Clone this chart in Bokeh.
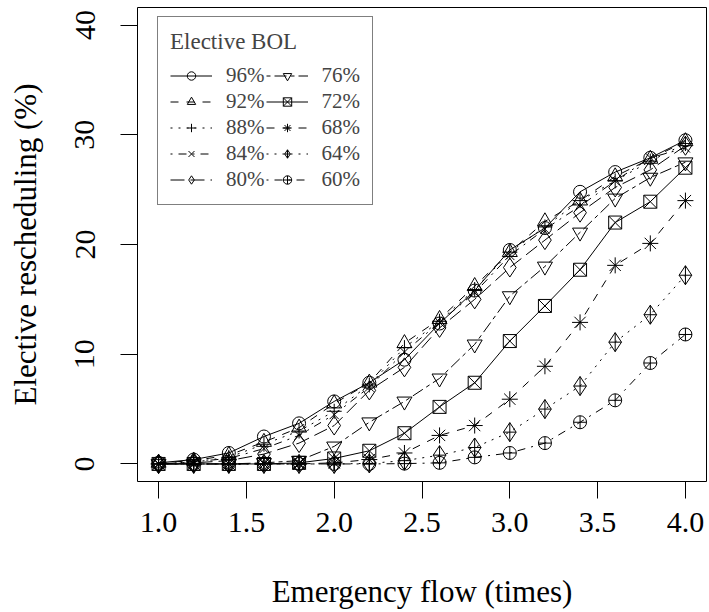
from bokeh.plotting import figure
from bokeh.models import Range1d, FixedTicker, Legend, LegendItem
from bokeh.embed import file_html
from bokeh.resources import INLINE

# ---- data ----
flow = [1.0, 1.2, 1.4, 1.6, 1.8, 2.0, 2.2, 2.4, 2.6, 2.8, 3.0, 3.2, 3.4, 3.6, 3.8, 4.0]

bol_labels = ["96%", "92%", "88%", "84%", "80%", "76%", "72%", "68%", "64%", "60%"]

bol96 = [0.1, 0.4, 1.0, 2.5, 3.7, 5.7, 7.4, 9.5, 12.8, 15.8, 19.5, 21.5, 24.8, 26.6, 27.9, 29.5]
bol92 = [0.1, 0.3, 0.8, 2.0, 3.3, 5.5, 7.4, 11.0, 13.2, 16.2, 19.3, 22.1, 24.0, 26.2, 27.8, 29.4]
bol88 = [0.0, 0.2, 0.6, 1.8, 3.0, 4.8, 7.2, 10.6, 13.0, 15.9, 19.3, 21.6, 24.0, 25.8, 27.6, 29.2]
bol84 = [0.0, 0.2, 0.5, 1.4, 2.6, 4.5, 7.0, 10.2, 12.9, 15.6, 19.0, 21.4, 23.5, 25.8, 27.9, 28.8]
bol80 = [0.0, 0.1, 0.3, 0.9, 1.9, 3.5, 6.7, 8.8, 12.4, 15.0, 17.9, 20.4, 22.9, 25.2, 26.8, 29.0]
bol76 = [0.0, 0.0, 0.0, 0.1, 0.3, 1.6, 3.8, 5.7, 7.8, 10.9, 15.3, 18.0, 21.1, 24.2, 26.1, 27.5]
bol72 = [0.0, 0.0, 0.0, 0.0, 0.1, 0.5, 1.2, 2.8, 5.2, 7.4, 11.2, 14.4, 17.7, 22.0, 23.9, 27.0]
bol68 = [0.0, 0.0, 0.0, 0.0, 0.0, 0.1, 0.4, 1.0, 2.6, 3.5, 5.9, 8.9, 12.9, 18.1, 20.1, 24.0]
bol64 = [0.0, 0.0, 0.0, 0.0, 0.0, 0.0, 0.05, 0.3, 0.8, 1.5, 2.9, 5.0, 7.1, 11.1, 13.6, 17.2]
bol60 = [0.0, 0.0, 0.0, 0.0, 0.0, 0.0, 0.0, 0.03, 0.1, 0.6, 1.0, 1.9, 3.8, 5.8, 9.2, 11.8]

series = [bol96, bol92, bol88, bol84, bol80, bol76, bol72, bol68, bol64, bol60]

x_ticks = [1.0, 1.5, 2.0, 2.5, 3.0, 3.5, 4.0]
y_ticks = [0, 10, 20, 30, 40]

# ---- styles (R lty 1..6 and pch 1..10) ----
dashes = ["solid", "8 8", "2 6", "2 6 8 6", "14 6", "4 4 12 4",
          "solid", "8 8", "2 6", "2 6 8 6"]
markers = ["circle", "triangle", "cross", "x", "diamond", "inverted_triangle",
           "square_x", "asterisk", "diamond_cross", "circle_cross"]
sizes = [13, 15, 15, 13, 19, 15, 13, 16, 19, 13]

FONT = "Liberation Serif, serif"

p = figure(frame_width=569, frame_height=474,
           min_border_left=137, min_border_right=1, min_border_top=7, min_border_bottom=128,
           x_range=Range1d(0.88, 4.12), y_range=Range1d(-1.6, 41.6),
           output_backend="svg", toolbar_location=None, tools="")

p.background_fill_color = "white"
p.border_fill_color = "white"
p.outline_line_color = "black"
p.outline_line_width = 1
p.grid.visible = False

items = []
for lab, ys, dash, mk, sz in zip(bol_labels, series, dashes, markers, sizes):
    ln = p.line(flow, ys, line_color="black", line_width=1, line_dash=dash)
    sc = p.scatter(flow, ys, marker=mk, size=sz,
                   line_color="black", line_width=1, fill_color=None)
    items.append(LegendItem(label=lab, renderers=[ln, sc]))

for ax in (p.xaxis[0], p.yaxis[0]):
    ax.axis_line_color = None
    ax.major_tick_line_color = "black"
    ax.major_tick_out = 17
    ax.major_tick_in = 0
    ax.minor_tick_line_color = None
    ax.major_label_text_font = FONT
    ax.major_label_text_font_size = "30px"
    ax.major_label_text_color = "black"
    ax.axis_label_text_font = FONT
    ax.axis_label_text_font_size = "31px"
    ax.axis_label_text_font_style = "normal"
    ax.axis_label_text_color = "black"

p.xaxis.ticker = FixedTicker(ticks=x_ticks)
p.yaxis.ticker = FixedTicker(ticks=y_ticks)
p.xaxis.major_label_overrides = {1.0: "1.0", 1.5: "1.5", 2.0: "2.0", 2.5: "2.5",
                                 3.0: "3.0", 3.5: "3.5", 4.0: "4.0"}
p.xaxis.axis_label = "Emergency flow (times)"
p.yaxis.axis_label = "Elective rescheduling (%)"
p.yaxis.major_label_orientation = "vertical"
p.xaxis.major_label_standoff = 14
p.yaxis.major_label_standoff = 26
p.xaxis.axis_label_standoff = 39
p.yaxis.axis_label_standoff = 30

legend = Legend(items=items, ncols=2, location=(20, 276),
                title="Elective BOL",
                title_text_font=FONT, title_text_font_size="23px", title_text_font_style="normal",
                title_standoff=8,
                label_text_font=FONT, label_text_font_size="21px",
                label_height=21, glyph_height=21, glyph_width=42,
                label_standoff=14, spacing=1, padding=12, margin=0,
                border_line_color="black", border_line_width=1,
                background_fill_color="white", background_fill_alpha=1.0)
p.add_layout(legend)

open("out.html", "w").write(file_html(p, INLINE))
